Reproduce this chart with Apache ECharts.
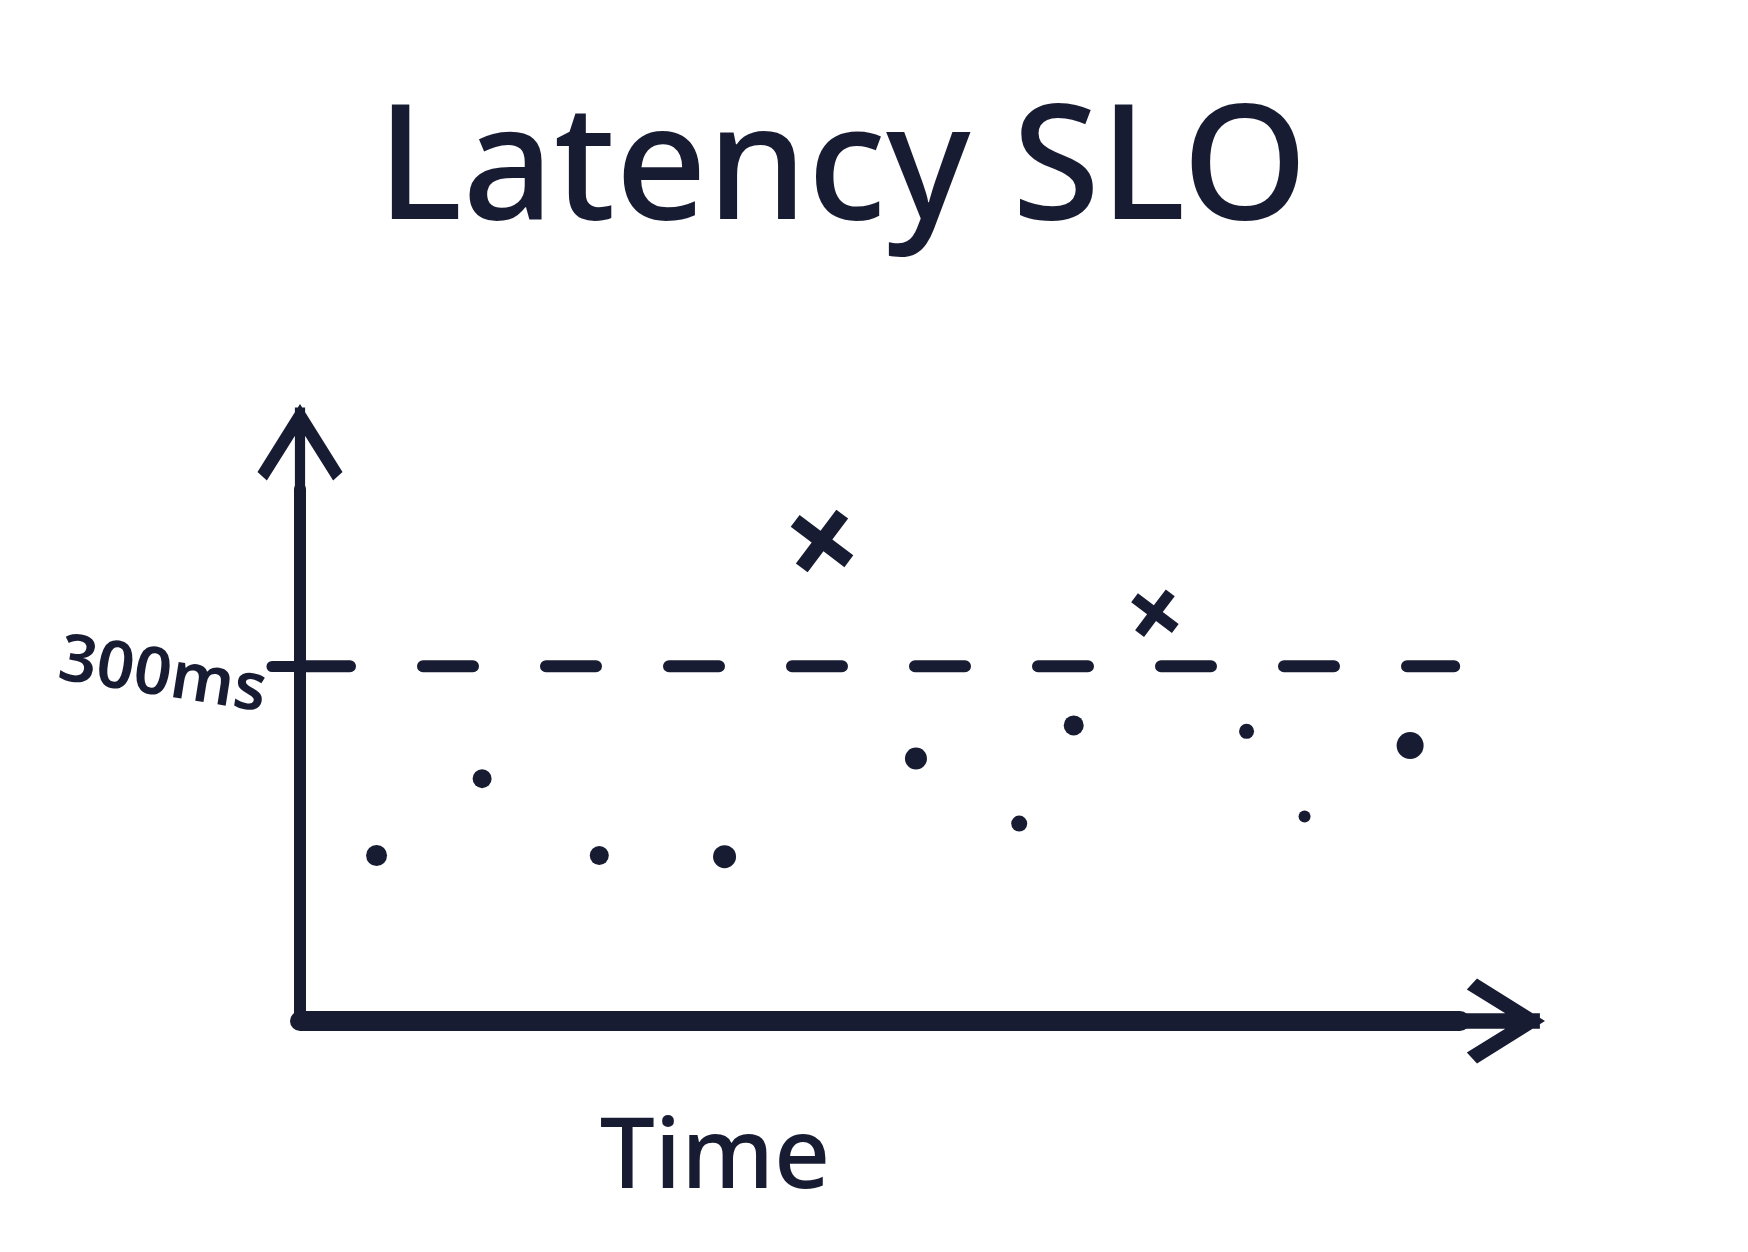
<!DOCTYPE html>
<html>
<head>
<meta charset="utf-8">
<script src="https://cdn.jsdelivr.net/npm/echarts@6/dist/echarts.min.js"></script>
<style>html,body{margin:0;padding:0;background:#fff}#c{width:1748px;height:1252px}</style>
</head>
<body>
<div id="c"></div>
<script>
// ---- data ----
const titleText = 'Latency SLO';
const xAxisName = 'Time';
const sloValue = 300;
const sloLabel = '300ms';
const okTimes = [6.6, 15.7, 25.8, 36.6, 53.1, 62.0, 66.7, 81.6, 86.6, 95.7];
const okLatency = [140, 205, 140, 139, 222, 167, 250, 245, 173, 233];
const breachTimes = [45.0, 73.7];
const breachLatency = [406, 345];
const sloSpan = [0, 99.5];

// ---- styles ----
const ink = '#181c33';
const okDotSizes = [21, 19, 19, 23, 22, 16, 20, 15, 12, 27];
const breachSizes = [58, 44];
const yArrowPath = 'path://M50,0 L100,80 L89,90 L50,28 L11,90 L0,80 Z M44,4 L56,4 L56,200 L44,200 Z';
const xArrowPath = 'path://M50,0 L100,80 L87,92 L50,32 L13,92 L0,80 Z M41,6 L59,6 L59,200 L41,200 Z';
const crossPath = 'path://M0,18 L18,0 L50,32 L82,0 L100,18 L68,50 L100,82 L82,100 L50,68 L18,100 L0,82 L32,50 Z';

const chart = echarts.init(document.getElementById('c'), null, {renderer: 'canvas'});
chart.setOption({
  backgroundColor: '#ffffff',
  animation: false,
  title: {
    text: titleText, left: 372, top: 88,
    textStyle: {fontFamily: 'Noto Sans', fontSize: 160, fontWeight: 500, color: ink}
  },
  grid: {left: 300, right: 288, top: 489, bottom: 231, containLabel: false},
  xAxis: {
    type: 'value', min: 0, max: 100,
    name: xAxisName, nameLocation: 'middle', nameGap: 90,
    nameTextStyle: {fontFamily: 'Noto Sans', fontSize: 98, fontWeight: 500, color: ink, padding: [0, 330, 0, 0]},
    axisLine: {show: true, onZero: false, symbol: ['none', xArrowPath], symbolSize: [112, 170],
      lineStyle: {color: ink, width: 20, cap: 'round'}},
    axisTick: {show: false}, axisLabel: {show: false}, splitLine: {show: false}
  },
  yAxis: {
    type: 'value', min: 0, max: 450, interval: 150,
    axisLine: {show: true, symbol: ['none', yArrowPath], symbolSize: [116, 170],
      lineStyle: {color: ink, width: 12, cap: 'round'}},
    axisTick: {show: true, customValues: [sloValue], length: 28, lineStyle: {color: ink, width: 11, cap: 'round'}},
    axisLabel: {show: true, customValues: [sloValue], formatter: () => '\n' + sloLabel, margin: 30, rotate: -9,
      lineHeight: 54,
      fontFamily: 'Noto Sans', fontSize: 66, fontWeight: 600, color: ink},
    splitLine: {show: false}
  },
  series: [
    {
      type: 'line', name: 'SLO', silent: true, symbol: 'none',
      data: sloSpan.map(x => [x, sloValue]),
      lineStyle: {color: ink, width: 12, type: [50, 73], cap: 'round'}
    },
    {
      type: 'scatter', name: 'within SLO',
      data: okTimes.map((t, i) => [t, okLatency[i]]),
      symbol: 'circle',
      symbolSize: (v, p) => okDotSizes[p.dataIndex],
      itemStyle: {color: ink, opacity: 1}
    },
    {
      type: 'scatter', name: 'SLO breach',
      data: breachTimes.map((t, i) => [t, breachLatency[i]]),
      symbol: crossPath, symbolRotate: 8,
      symbolSize: (v, p) => breachSizes[p.dataIndex],
      itemStyle: {color: ink, opacity: 1}
    }
  ]
});
</script>
</body>
</html>
